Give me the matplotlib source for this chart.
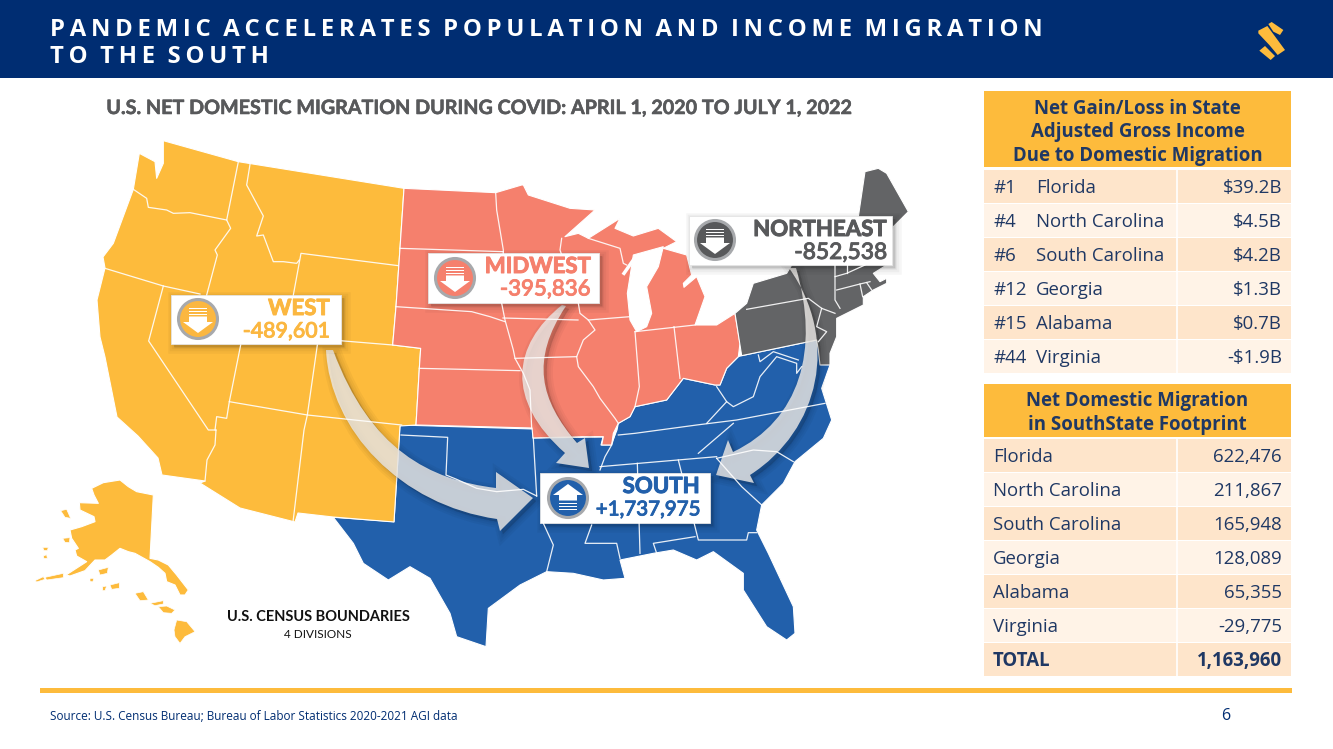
"""Pandemic migration slide: census-region map with two tables."""

import matplotlib

matplotlib.use("Agg")
import matplotlib.patheffects as pe
import matplotlib.pyplot as plt
from matplotlib.patches import Circle, PathPatch, Polygon, Rectangle
from matplotlib.path import Path
from matplotlib.transforms import Affine2D

NAVY = "#002D72"
GOLD = "#FDBB3C"
CORAL = "#F5806D"
GRAY = "#636466"
BLUE = "#2260AB"
TEXT = "#1F3864"

# Data
# ----
region_names = ["WEST", "MIDWEST", "NORTHEAST", "SOUTH"]
region_values = [-489601, -395836, -852538, 1737975]

income_ranks = ["#1", "#4", "#6", "#12", "#15", "#44"]
income_states = ["Florida", "North Carolina", "South Carolina", "Georgia", "Alabama", "Virginia"]
income_values = [39.2, 4.5, 4.2, 1.3, 0.7, -1.9]

migration_states = ["Florida", "North Carolina", "South Carolina", "Georgia", "Alabama", "Virginia"]
migration_values = [622476, 211867, 165948, 128089, 65355, -29775]
migration_total = 1163960


def crop(x0, y0, pts):
    return [(x0 + x / 3, y0 + y / 3) for x, y in pts]


def z1(pts):
    return crop(100, 130, pts)


def z2(pts):
    return crop(520, 150, pts)


def z3(pts):
    return crop(320, 420, pts)


def z4(pts):
    return crop(20, 460, pts)


# Map outlines
# ------------
divide = z1([(912, 175), (900, 355), (888, 530), (878, 645), (962, 655), (958, 715), (948, 885)])

west_outline = (
    z1([(190, 32), (415, 95)]) + divide
    + [(400, 426), (394, 522), (333, 517), (298, 513), (295, 522), (240, 508), (200, 483), (205, 481)]
    + [(162, 475), (158, 458), (138, 436), (117, 417), (105, 357), (100, 337), (97, 300), (105, 268), (103, 257)]
    + z1([(40, 340), (100, 178), (118, 70), (165, 95), (170, 145), (190, 100)])
)
midwest_outline = (
    z1([(912, 175), (1187, 188), (1265, 165)])
    + z2([(10, 105), (25, 135), (150, 175), (225, 180), (135, 260), (175, 250), (205, 265), (300, 205), (285, 235),
          (340, 258), (415, 235), (470, 275), (430, 295), (500, 315), (515, 375), (490, 400), (492, 412),
          (530, 380), (555, 440), (525, 525), (590, 525), (645, 490), (660, 580), (655, 620), (620, 655),
          (600, 705), (585, 705), (490, 685), (440, 750), (345, 770), (330, 800), (295, 820), (280, 850),
          (275, 885), (245, 885), (250, 860), (195, 860)])
    + [(533, 438), (532, 428), (417, 425)]
    + divide[::-1]
)
northeast_outline = z2([
    (1015, 200), (1035, 65), (1075, 55), (1100, 70), (1165, 185), (1120, 230), (1100, 345), (1060, 370),
    (1080, 395), (1100, 385), (1100, 400), (1060, 420), (1030, 440), (1030, 465), (950, 505), (950, 560),
    (930, 610), (930, 645), (900, 645), (895, 600), (890, 570), (665, 617), (645, 490), (680, 460), (700, 400),
    (800, 370), (815, 345), (900, 300),
])
south_outline = (
    [(400, 425), (533, 429), (533, 438), (603, 437), (601, 445), (611, 445), (617, 430)]
    + z2([(295, 820), (330, 800), (345, 770), (440, 750), (490, 685), (585, 705), (600, 705), (620, 655),
          (655, 620), (665, 617), (890, 570), (895, 590), (930, 645), (905, 715), (935, 810)])
    + z3([(1510, 55), (1425, 125), (1390, 190), (1325, 255), (1310, 330), (1345, 400), (1420, 560), (1425, 640),
          (1400, 660), (1340, 620), (1270, 510), (1270, 460), (1180, 395), (1130, 420), (1060, 390), (1000, 400),
          (900, 420), (915, 475), (850, 480), (760, 460), (680, 455), (600, 495), (505, 565), (498, 680),
          (410, 650), (390, 580), (330, 475), (270, 440), (205, 480), (130, 430), (100, 370), (40, 292), (222, 305)])
)
lake_michigan = z2([(340, 315), (430, 290), (415, 350), (380, 410), (395, 490), (380, 530), (350, 545),
                    (330, 510), (322, 430), (330, 380)])
alaska_outline = z4([(215, 85), (250, 68), (300, 60), (325, 80), (350, 95), (400, 105), (390, 295), (415, 300),
                     (445, 315), (470, 345), (505, 390), (495, 405), (480, 405), (465, 375), (440, 365), (435, 340),
                     (415, 322), (390, 305), (345, 280), (325, 275), (300, 265), (275, 285), (255, 300), (225, 300),
                     (195, 332), (150, 348), (138, 345), (200, 305), (170, 288), (165, 270), (175, 265), (155, 235),
                     (150, 210), (185, 200), (225, 185), (222, 170), (180, 150), (178, 128), (235, 130), (222, 105)])
islands = [z4(p) for p in [
    [(470, 480), (500, 485), (525, 515), (495, 530), (480, 550), (465, 530), (462, 510)],
    [(415, 440), (440, 438), (465, 450), (455, 460), (430, 458)],
    [(390, 430), (430, 422), (430, 432), (405, 437)],
    [(345, 400), (370, 395), (385, 420), (360, 422)],
    [(235, 330), (265, 322), (262, 340), (240, 345)],
    [(270, 375), (298, 368), (298, 385), (275, 388)],
    [(122, 152), (140, 148), (152, 175), (135, 172)],
    [(128, 235), (150, 233), (148, 248), (135, 247)],
    [(68, 262), (85, 262), (82, 272), (72, 272)],
    [(70, 288), (80, 284), (82, 295), (72, 296)],
    [(45, 362), (70, 350), (75, 358), (50, 366)],
    [(75, 352), (130, 340), (130, 353), (80, 360)],
    [(248, 380), (260, 378), (255, 392), (248, 392)],
    [(210, 355), (222, 355), (218, 366), (210, 364)],
]]

state_lines = [
    z1([(100, 178), (140, 205), (145, 232), (200, 240), (220, 250), (270, 248), (380, 270)]),
    z1([(415, 95), (380, 270), (392, 295), (345, 360), (352, 375), (320, 495)]),
    z1([(15, 415), (190, 468), (300, 492)]),
    z1([(450, 103), (440, 165), (490, 258), (470, 318), (490, 315), (520, 395), (550, 395), (590, 400), (598, 390)]),
    z1([(580, 495), (603, 370), (895, 407)]),
    z1([(720, 632), (878, 645)]),
    z1([(652, 645), (622, 855), (612, 900)]) + [(293, 522)],
    z1([(422, 645), (388, 815), (380, 865), (350, 860), (345, 900)]) + [(216, 430), (215, 445), (207, 460), (205, 481)],
    z1([(190, 468), (146, 633), (325, 900)]) + [(216, 430)],
    z1([(388, 815), (622, 855), (905, 885)]),
    z1([(1187, 188), (1190, 240), (1210, 360), (1205, 520), (1215, 570), (1240, 660), (1245, 685), (1270, 730),
        (1290, 780), (1295, 895)]),
    z1([(900, 355), (1210, 365)]),
    z1([(888, 530), (1115, 545), (1170, 560), (1215, 575)]),
    z1([(958, 715), (1260, 722)]),
    z1([(1245, 685)]) + z2([(170, 620), (190, 570), (225, 540), (205, 510), (180, 490), (175, 460), (120, 300), (125, 265)]),
    [(503, 318), (578, 320)],
    z2([(205, 510), (330, 500)]),
    z2([(205, 265), (300, 295), (310, 340), (320, 345)]),
    z2([(345, 545), (358, 710), (345, 770)]),
    z2([(462, 530), (480, 685)]),
    z2([(345, 545), (525, 525)]),
    z2([(170, 620), (175, 650), (220, 710), (240, 745), (285, 805), (295, 820)]),
    z2([(680, 478), (865, 445), (905, 475), (945, 490)]),
    z2([(905, 475), (890, 530), (920, 545), (895, 575)]),
    z2([(945, 345), (945, 450), (960, 475)]),
    z2([(945, 380), (980, 370), (1035, 345)]),
    z2([(980, 345), (980, 370)]),
    z2([(950, 420), (1020, 402), (1050, 395)]),
    z2([(1020, 402), (1028, 440)]),
    z2([(1040, 398), (1055, 420)]),
    z2([(295, 855), (345, 850), (530, 825), (650, 810), (915, 760)]),
    z2([(590, 710), (620, 755), (560, 820)]),
    z2([(620, 755), (640, 770), (700, 740), (720, 680), (770, 620), (830, 640), (830, 670), (845, 650)]),
    z2([(715, 615), (720, 635), (760, 605), (835, 630)]),
    z3([(243, 45), (383, 52), (378, 165), (410, 178), (470, 205), (530, 215), (610, 208), (650, 228)]),
    z3([(640, 55), (650, 228)]),
    z3([(670, 310), (700, 375), (680, 455)]),
    z3([(840, 150), (855, 110), (875, 75), (885, 42)]),
    z3([(840, 140), (1190, 110)]),
    z3([(1135, 100), (1170, 70), (1240, 10)]),
    z3([(1190, 115), (1300, 90), (1370, 95), (1420, 125)]),
    z3([(1190, 115), (1265, 200), (1325, 255)]),
    z3([(952, 130), (960, 400)]),
    z3([(1075, 120), (1125, 320), (1135, 360), (1280, 360), (1285, 338), (1310, 338)]),
    z3([(1010, 400), (1000, 370), (1125, 350)]),
    z3([(815, 315), (795, 370), (890, 370), (900, 415)]),
]

# Arrows as bezier outlines
# -------------------------
MV, LN, CV, CL = Path.MOVETO, Path.LINETO, Path.CURVE4, Path.CLOSEPOLY
arrow_codes = [MV, CV, CV, CV, LN, LN, LN, LN, CV, CV, CV, CL]
west_arrow = [(326, 350), (330, 430), (400, 505), (497, 519), (500, 531), (533, 498), (496, 472), (496, 488),
              (430, 480), (370, 450), (333, 350), (326, 350)]
midwest_arrow = [(562, 305), (512, 345), (505, 400), (565, 453), (556, 463), (589, 468), (585, 438), (577, 443),
                 (540, 400), (530, 360), (566, 306), (562, 305)]
northeast_arrow = [(789, 268), (840, 340), (820, 430), (750, 475), (754, 483), (716, 475), (728, 440), (733, 452),
                   (800, 420), (820, 350), (796, 268), (789, 268)]

fig = plt.figure(figsize=(13.33, 7.49), dpi=100)
ax = fig.add_axes([0, 0, 1, 1])
ax.set_xlim(0, 1333)
ax.set_ylim(749, 0)
ax.axis("off")

plt.rcParams["font.family"] = ["Open Sans", "DejaVu Sans"]
LABEL_FONT = "Lato"


def heavier(color, width=0.5):
    """Fatten a label a little, Lato is lighter than the slide's font."""
    return [pe.withStroke(linewidth=width, foreground=color)]


# Header
# ------
ax.add_patch(Rectangle((0, 0), 1333, 78, fc=NAVY, ec="none"))
thin = "\u2009"
for y, line in [(30, "PANDEMIC ACCELERATES POPULATION AND INCOME MIGRATION"), (57, "TO THE SOUTH")]:
    spaced = "  ".join(thin.join(w) for w in line.split(" "))
    ax.text(50, y, spaced, color="white", fontsize=17.2, fontweight="bold", va="center", ha="left")

for piece in [
    [(115, 72), (125, 66), (160, 90), (150, 105), (130, 95)],
    [(85, 92), (112, 78), (165, 150), (143, 165), (118, 135), (85, 100)],
    [(88, 152), (105, 138), (135, 168), (122, 180)],
]:
    ax.add_patch(Polygon(crop(1230, 0, piece), closed=True, fc=GOLD, ec="none"))

ax.text(480, 108, "U.S. NET DOMESTIC MIGRATION DURING COVID: APRIL 1, 2020 TO JULY 1, 2022",
        color="#58595B", fontsize=14.2, fontweight="bold", family=LABEL_FONT, ha="center", va="center",
        path_effects=heavier("#58595B", 0.4))

# Map
# ---
for outline, color in [(south_outline, BLUE), (west_outline, GOLD), (midwest_outline, CORAL),
                        (northeast_outline, GRAY), (alaska_outline, GOLD)]:
    ax.add_patch(Polygon(outline, closed=True, fc=color, ec="white", lw=0.8, joinstyle="round"))
for island in islands:
    ax.add_patch(Polygon(island, closed=True, fc=GOLD, ec="white", lw=0.5))
for line in state_lines:
    xs, ys = zip(*line)
    ax.plot(xs, ys, color="white", lw=0.9, solid_joinstyle="round", alpha=0.9)
ax.add_patch(Polygon(lake_michigan, closed=True, fc="white", ec="white", lw=0.8))
xs, ys = zip(*z2([(312, 370), (340, 330)]))
ax.plot(xs, ys, color="white", lw=2.5)


def shadow(make_patch):
    """Soft drop shadow: stacked faint outlines, shifted down and right."""
    shift = Affine2D().translate(3, 3) + ax.transData
    for lw in (9, 6, 3, 1):
        p = make_patch()
        p.set(fc="black", ec="black", lw=lw, alpha=0.035, transform=shift)
        ax.add_patch(p)


for verts in [west_arrow, midwest_arrow, northeast_arrow]:
    path = Path(verts, arrow_codes)
    shadow(lambda: PathPatch(path))
    ax.add_patch(PathPatch(path, fc="#ECE9E6", ec="none", alpha=0.82))

ax.text(318, 617, "U.S. CENSUS BOUNDARIES", color="#111111", fontsize=10.5, fontweight="bold",
        family=LABEL_FONT, ha="center", va="center")
ax.text(318, 634, "4 DIVISIONS", color="#111111", fontsize=8.5, family=LABEL_FONT, ha="center", va="center")


# Region callouts
# ---------------
def callout(name, value, color, box, icon_xy, right, name_size, value_size, up=False):
    x0, y0, x1, y1 = box
    shadow(lambda: Rectangle((x0, y0), x1 - x0, y1 - y0))
    ax.add_patch(Rectangle((x0, y0), x1 - x0, y1 - y0, fc="white", ec="#E4E4E4", lw=0.6))
    ax.text(right, y0 + 13.5, name, color=color, fontsize=name_size, fontweight="bold", family=LABEL_FONT,
            ha="right", va="center", path_effects=heavier(color, 0.7))
    ax.text(right, y0 + 36.5, f"{value:+,}", color=color, fontsize=value_size, fontweight="medium",
            family=LABEL_FONT, ha="right", va="center", path_effects=heavier(color, 0.6))
    cx, cy = icon_xy
    ax.add_patch(Circle((cx, cy), 19.5, fc=color, ec="#A7A9AC", lw=2.2))
    s = -1 if up else 1
    for dy in (-11, -8, -5):
        ax.add_patch(Rectangle((cx - 9, cy + s * dy - 0.5), 18, 1.3, fc="white", ec="none"))
    ax.add_patch(Polygon(
        [(cx - 9, cy - 2.5 * s), (cx + 9, cy - 2.5 * s), (cx + 9, cy + 3 * s), (cx + 15, cy + 3 * s),
         (cx, cy + 14 * s), (cx - 15, cy + 3 * s), (cx - 9, cy + 3 * s)],
        closed=True, fc="white", ec="none"))


callout(region_names[0], region_values[0], "#FBB740", (171, 295, 341, 344), (198, 319), 330, 16, 15.4)
callout(region_names[1], region_values[1], CORAL, (428, 253, 599, 303), (455, 278), 591, 16, 16)
callout(region_names[2], region_values[2], "#58595B", (689, 216, 892, 265), (715, 240), 887, 16, 16.4)
callout(region_names[3], region_values[3], BLUE, (540, 473, 710, 523), (568, 498), 700, 16, 14.8, up=True)

# Tables
# ------
TX0, TX1, DIV = 984, 1291, 1177
LIGHT, PALE = "#FEE5CB", "#FFF3E7"


def table_row(y, h, fill):
    ax.add_patch(Rectangle((TX0, y), TX1 - TX0, h, fc=fill, ec="none"))
    ax.plot([DIV, DIV], [y, y + h], color="white", lw=1.2)


ax.add_patch(Rectangle((TX0, 91), TX1 - TX0, 76, fc=GOLD, ec="none"))
for y, line in [(109, "Net Gain/Loss in State"), (132, "Adjusted Gross Income"), (156, "Due to Domestic Migration")]:
    ax.text((TX0 + TX1) / 2, y, line, color=TEXT, fontsize=13.4, fontweight="bold", ha="center", va="center")

for i, (rank, state, value) in enumerate(zip(income_ranks, income_states, income_values)):
    y = 170 + 34 * i
    table_row(y, 33, LIGHT if i % 2 == 0 else PALE)
    amount = f"${value}B" if value >= 0 else f"-${-value}B"
    ax.text(993, y + 18, rank, color=TEXT, fontsize=13.4, va="center")
    ax.text(1036, y + 18, state, color=TEXT, fontsize=13.4, va="center")
    ax.text(1282, y + 18, amount, color=TEXT, fontsize=13.4, ha="right", va="center")

ax.add_patch(Rectangle((TX0, 384), TX1 - TX0, 53, fc=GOLD, ec="none"))
for y, line in [(401, "Net Domestic Migration"), (425, "in SouthState Footprint")]:
    ax.text((TX0 + TX1) / 2, y, line, color=TEXT, fontsize=13.4, fontweight="bold", ha="center", va="center")

for i, (state, value) in enumerate(zip(migration_states, migration_values)):
    y = 439 + 34 * i
    table_row(y, 33, LIGHT if i % 2 == 0 else PALE)
    ax.text(993, y + 18, state, color=TEXT, fontsize=13.4, va="center")
    ax.text(1282, y + 18, f"{value:,}", color=TEXT, fontsize=13.4, ha="right", va="center")
table_row(643, 33, LIGHT)
ax.text(993, 661, "TOTAL", color=TEXT, fontsize=13.4, fontweight="bold", va="center")
ax.text(1282, 661, f"{migration_total:,}", color=TEXT, fontsize=13.4, fontweight="bold", ha="right", va="center")

# Footer
# ------
ax.add_patch(Rectangle((40, 688), 1252, 5, fc=GOLD, ec="none"))
ax.text(50, 717, "Source: U.S. Census Bureau; Bureau of Labor Statistics 2020-2021 AGI data",
        color=NAVY, fontsize=8.5, va="center")
ax.text(1226, 716, "6", color=NAVY, fontsize=11.5, ha="center", va="center")

fig.savefig("out.png", dpi=100)
